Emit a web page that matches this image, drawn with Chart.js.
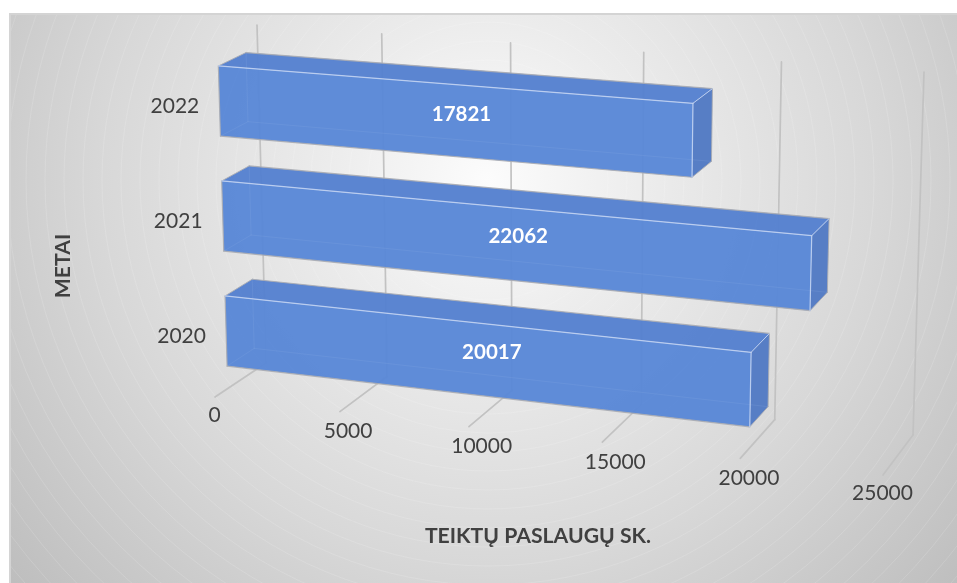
<!DOCTYPE html>
<html>
<head>
<meta charset="utf-8">
<style>
    html, body { margin: 0; padding: 0; background: #fff; overflow: hidden; }
    canvas { display: block; }
</style>
<script src="https://cdn.jsdelivr.net/npm/chart.js@4"></script>
</head>
<body>
<canvas id="servicesChart" width="957" height="583"></canvas>
<script>
// Chart data
const categories = ['2022', '2021', '2020'];
const serviceCounts = [17821, 22062, 20017];
const axisMin = 0;
const axisMax = 25000;
const axisStep = 5000;
const valueAxisTitle = 'TEIKTŲ PASLAUGŲ SK.';
const categoryAxisTitle = 'METAI';

// View of the 3D box: where its eight corners land on the page
// (u = along the value axis, h = height, d = depth)
const view = {
    floorFrontL: [215, 397], floorFrontR: [883, 475],
    floorBackL: [266, 363], floorBackR: [913, 435],
    topFrontL: [204.6, 49.7], topFrontR: [894, 100],
    topBackL: [257, 25], topBackR: [924, 72],
    foreshorten: 1.087,
    barFront: 0.25,
    barBack: 0.78,
    barDrop: 2.4
};

const lerp = (a, b, t) => a + (b - a) * t;
const lerpPt = (a, b, t) => [lerp(a[0], b[0], t), lerp(a[1], b[1], t)];

function project(u, h, d) {
    const p = u / (u + view.foreshorten * (1 - u));
    const floorL = lerpPt(view.floorFrontL, view.floorBackL, d);
    const floorR = lerpPt(view.floorFrontR, view.floorBackR, d);
    const topL = lerpPt(view.topFrontL, view.topBackL, d);
    const topR = lerpPt(view.topFrontR, view.topBackR, d);
    return lerpPt(lerpPt(floorL, floorR, p), lerpPt(topL, topR, p), h);
}

// Bars sag a touch more towards the right than the walls do
function projectBar(u, h, d) {
    const pt = project(u, h, d);
    return [pt[0], pt[1] + view.barDrop * u];
}

function polygon(ctx, pts, fill) {
    ctx.beginPath();
    pts.forEach((pt, i) => i ? ctx.lineTo(pt[0], pt[1]) : ctx.moveTo(pt[0], pt[1]));
    ctx.closePath();
    ctx.fillStyle = fill;
    ctx.fill();
}

function line(ctx, a, b, color, width) {
    ctx.beginPath();
    ctx.moveTo(a[0], a[1]);
    ctx.lineTo(b[0], b[1]);
    ctx.strokeStyle = color;
    ctx.lineWidth = width;
    ctx.stroke();
}

// Scale pixels -> 0..1 positions in the box
function toUnits(chart, x, y) {
    const { x: xScale, y: yScale } = chart.scales;
    return [(x - xScale.left) / xScale.width, (yScale.bottom - y) / yScale.height];
}

const box3d = {
    id: 'box3d',

    // Gradient backdrop
    beforeDraw(chart) {
        const ctx = chart.ctx;
        const cx = 488, cy = 180;
        const grad = ctx.createRadialGradient(cx, cy, 0, cx, cy, 640);
        grad.addColorStop(0, '#fcfcfc');
        grad.addColorStop(0.25, '#ececec');
        grad.addColorStop(0.6, '#d8d8d8');
        grad.addColorStop(1, '#bcbcbc');
        ctx.save();
        ctx.fillStyle = '#fff';
        ctx.fillRect(0, 0, chart.width, chart.height);
        ctx.fillStyle = grad;
        ctx.fillRect(10, 14, chart.width - 10, chart.height - 14);
        ctx.beginPath();
        ctx.rect(10, 14, chart.width - 10, chart.height - 14);
        ctx.clip();
        for (let r = 120; r < 720; r += 19) {
            ctx.beginPath();
            ctx.arc(cx, cy, r, 0, Math.PI * 2);
            ctx.strokeStyle = 'rgba(255,255,255,0.18)';
            ctx.lineWidth = 0.8;
            ctx.stroke();
        }
        ctx.restore();
        ctx.strokeStyle = '#d4d4d4';
        ctx.lineWidth = 2;
        ctx.beginPath();
        ctx.moveTo(10, chart.height);
        ctx.lineTo(10, 14);
        ctx.lineTo(chart.width, 14);
        ctx.stroke();
    },

    // Gridlines run along the floor and up the back wall
    beforeDatasetsDraw(chart) {
        const ctx = chart.ctx;
        const xScale = chart.scales.x;
        xScale.ticks.forEach(tick => {
            const u = toUnits(chart, xScale.getPixelForValue(tick.value), 0)[0];
            const front = project(u, 0, 0);
            const corner = project(u, 0, 1);
            const top = project(u, 1, 1);
            ctx.lineCap = 'round';
            line(ctx, front, corner, '#c2c2c2', 1.7);
            line(ctx, corner, top, '#c2c2c2', 1.7);
        });
    },

    // Each bar is built from its Chart.js element geometry
    beforeDatasetDraw(chart, args) {
        const ctx = chart.ctx;
        const colors = chart.data.datasets[args.index].faceColors;
        chart.getDatasetMeta(args.index).data.forEach(bar => {
            const half = bar.height / 2;
            const [u0, hTop] = toUnits(chart, bar.base, bar.y - half);
            const [u1, hBot] = toUnits(chart, bar.x, bar.y + half);
            const f = view.barFront, b = view.barBack;
            const ftl = projectBar(u0, hTop, f), ftr = projectBar(u1, hTop, f);
            const fbl = projectBar(u0, hBot, f), fbr = projectBar(u1, hBot, f);
            const btl = projectBar(u0, hTop, b), btr = projectBar(u1, hTop, b);
            const bbl = projectBar(u0, hBot, b), bbr = projectBar(u1, hBot, b);

            polygon(ctx, [ftl, ftr, btr, btl], colors.top);
            polygon(ctx, [ftr, fbr, bbr, btr], colors.side);
            polygon(ctx, [ftl, ftr, fbr, fbl], colors.front);

            // Hidden edges show faintly through the faces
            line(ctx, bbl, bbr, 'rgba(150,180,230,0.16)', 1);
            line(ctx, btl, bbl, 'rgba(150,180,230,0.16)', 1);
            line(ctx, fbl, bbl, 'rgba(150,180,230,0.16)', 1);

            // Outline
            const shade = 'rgba(170,172,178,0.9)';
            line(ctx, ftl, fbl, shade, 1.2);
            line(ctx, fbl, fbr, shade, 1.2);
            line(ctx, ftl, btl, shade, 1);
            line(ctx, btl, btr, shade, 1.2);
            line(ctx, btr, bbr, shade, 1);
            line(ctx, fbr, bbr, shade, 1);
            const light = 'rgba(190,208,240,0.95)';
            line(ctx, ftl, ftr, light, 1.2);
            line(ctx, ftr, fbr, light, 1.2);
            line(ctx, ftr, btr, light, 1);
        });
        return false;
    },

    afterDatasetsDraw(chart) {
        const ctx = chart.ctx;
        const { x: xScale, y: yScale } = chart.scales;
        ctx.textAlign = 'center';
        ctx.textBaseline = 'middle';

        // Value labels on the bars
        ctx.fillStyle = '#ffffff';
        ctx.font = 'bold 20.5px Lato';
        chart.getDatasetMeta(0).data.forEach((bar, i) => {
            const [u0] = toUnits(chart, bar.base, 0);
            const [u1, h] = toUnits(chart, bar.x, bar.y);
            const pos = project((u0 + u1) / 2, h, 0.43);
            ctx.fillText(String(serviceCounts[i]), pos[0] + 4.5, pos[1]);
        });

        // Value axis ticks: evenly spaced below the floor's front edge
        ctx.fillStyle = '#404040';
        ctx.font = '21px Lato';
        xScale.ticks.forEach(tick => {
            const u = toUnits(chart, xScale.getPixelForValue(tick.value), 0)[0];
            const pos = lerpPt(view.floorFrontL, view.floorFrontR, u);
            ctx.fillText(String(tick.value), pos[0] - 0.5, pos[1] + 18.5);
        });

        // Category ticks: left of the bars' front edge
        categories.forEach((label, i) => {
            const h = toUnits(chart, 0, yScale.getPixelForTick(i))[1];
            const pos = project(0, h, view.barFront);
            ctx.fillText(label, pos[0] - 44.5, pos[1] + 5);
        });

        // Axis titles
        ctx.font = 'bold 21.2px Lato';
        ctx.fillText(valueAxisTitle, 538, 536);
        ctx.save();
        ctx.translate(63, 266);
        ctx.rotate(-Math.PI / 2);
        ctx.fillText(categoryAxisTitle, 0, 0);
        ctx.restore();
    }
};

new Chart(document.getElementById('servicesChart'), {
    type: 'bar',
    data: {
        labels: categories,
        datasets: [{
            data: serviceCounts,
            backgroundColor: '#5b8bd9',
            faceColors: {
                front: 'rgba(90,136,215,0.97)',
                top: 'rgba(86,129,207,0.97)',
                side: 'rgba(84,123,196,0.98)'
            },
            categoryPercentage: 1,
            barPercentage: 0.61
        }]
    },
    options: {
        indexAxis: 'y',
        responsive: false,
        animation: false,
        layout: { padding: 0 },
        plugins: { legend: { display: false }, tooltip: { enabled: false } },
        scales: {
            x: { display: false, min: axisMin, max: axisMax, ticks: { stepSize: axisStep } },
            y: { display: false }
        }
    },
    plugins: [box3d]
});
</script>
</body>
</html>
